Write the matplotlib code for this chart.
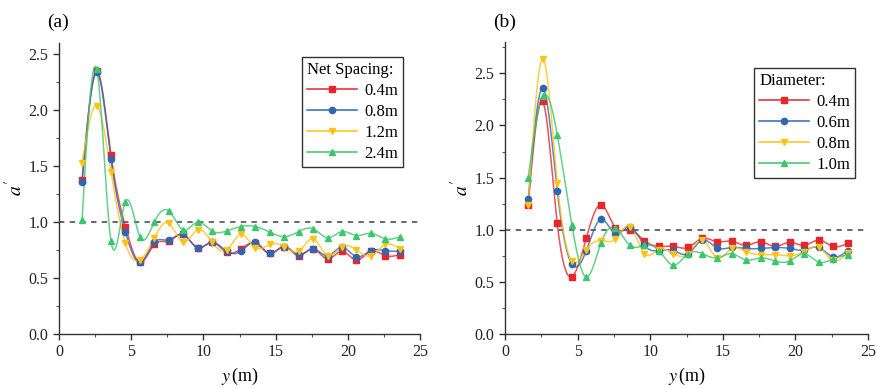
import numpy as np
import matplotlib
matplotlib.use("Agg")
import matplotlib.pyplot as plt
from matplotlib.lines import Line2D
from matplotlib.ticker import MultipleLocator

plt.rcParams['font.family'] = ['Liberation Serif', 'DejaVu Serif']
plt.rcParams['mathtext.fontset'] = 'stix'

# ---------------- data ----------------
y_pos = [1.6, 2.6, 3.6, 4.6, 5.6, 6.6, 7.6, 8.6, 9.6, 10.6, 11.6, 12.6,
         13.6, 14.6, 15.6, 16.6, 17.6, 18.6, 19.6, 20.6, 21.6, 22.6, 23.6]

# panel (a): net spacing
a_labels = ["0.4m", "0.8m", "1.2m", "2.4m"]
a_s04 = [1.38, 2.35, 1.60, 0.96, 0.64, 0.80, 0.83, 0.89, 0.77, 0.82, 0.73, 0.76,
         0.81, 0.72, 0.78, 0.70, 0.76, 0.67, 0.74, 0.66, 0.74, 0.70, 0.71]
a_s08 = [1.36, 2.34, 1.56, 0.91, 0.64, 0.82, 0.84, 0.89, 0.77, 0.82, 0.74, 0.74,
         0.82, 0.72, 0.78, 0.71, 0.76, 0.70, 0.775, 0.69, 0.745, 0.745, 0.74]
a_s12 = [1.53, 2.04, 1.45, 0.81, 0.66, 0.86, 0.99, 0.82, 0.93, 0.82, 0.75, 0.89,
         0.77, 0.80, 0.78, 0.74, 0.85, 0.70, 0.78, 0.75, 0.70, 0.80, 0.76]
a_s24 = [1.02, 2.37, 0.83, 1.18, 0.87, 1.00, 1.10, 0.93, 1.00, 0.92, 0.92, 0.96,
         0.96, 0.91, 0.87, 0.915, 0.94, 0.86, 0.915, 0.88, 0.90, 0.85, 0.87]

# panel (b): diameter
b_labels = ["0.4m", "0.6m", "0.8m", "1.0m"]
b_d04 = [1.24, 2.23, 1.06, 0.55, 0.92, 1.24, 1.02, 1.00, 0.895, 0.84, 0.84, 0.83,
         0.917, 0.885, 0.89, 0.85, 0.885, 0.84, 0.88, 0.85, 0.90, 0.84, 0.87]
b_d06 = [1.29, 2.36, 1.37, 0.67, 0.80, 1.10, 0.96, 1.03, 0.85, 0.80, 0.80, 0.77,
         0.90, 0.826, 0.83, 0.82, 0.82, 0.83, 0.82, 0.806, 0.83, 0.74, 0.80]
b_d08 = [1.235, 2.64, 1.45, 0.70, 0.81, 0.895, 0.91, 1.03, 0.77, 0.81, 0.77, 0.77,
         0.90, 0.73, 0.82, 0.79, 0.76, 0.76, 0.75, 0.79, 0.83, 0.705, 0.78]
b_d10 = [1.50, 2.28, 1.91, 1.05, 0.545, 0.87, 1.02, 0.85, 0.85, 0.80, 0.66, 0.77,
         0.77, 0.73, 0.77, 0.71, 0.73, 0.70, 0.70, 0.77, 0.69, 0.72, 0.76]

colors = ['#e8252b', '#2f67b1', '#fec213', '#3cc66c']
markers = ['s', 'o', 'v', '^']


def natural_spline(x, y, n=12):
    """Smooth curve through the data points (natural cubic spline)."""
    x = np.asarray(x, float)
    y = np.asarray(y, float)
    k = len(x)
    h = np.diff(x)
    A = np.zeros((k, k))
    r = np.zeros(k)
    A[0, 0] = 1
    A[-1, -1] = 1
    for i in range(1, k - 1):
        A[i, i - 1] = h[i - 1]
        A[i, i] = 2 * (h[i - 1] + h[i])
        A[i, i + 1] = h[i]
        r[i] = 6 * ((y[i + 1] - y[i]) / h[i] - (y[i] - y[i - 1]) / h[i - 1])
    M = np.linalg.solve(A, r)
    xs, ys = [], []
    for i in range(k - 1):
        t = np.linspace(x[i], x[i + 1], n, endpoint=False)
        a = x[i + 1] - t
        b = t - x[i]
        s = (M[i] * a ** 3 + M[i + 1] * b ** 3) / (6 * h[i]) \
            + (y[i] / h[i] - M[i] * h[i] / 6) * a \
            + (y[i + 1] / h[i] - M[i + 1] * h[i] / 6) * b
        xs.append(t)
        ys.append(s)
    xs.append([x[-1]])
    ys.append([y[-1]])
    return np.concatenate(xs), np.concatenate(ys)


fig = plt.figure(figsize=(8.77, 3.89), dpi=100)
ax_a = fig.add_axes([59 / 877, 55 / 389, 361 / 877, 291 / 389])
ax_b = fig.add_axes([505 / 877, 55 / 389, 363 / 877, 292 / 389])


def draw(ax, series, labels, title, ymax, legend_anchor):
    ax.axhline(1.0, color='#404040', lw=1.1, ls=(0, (3.5, 3.5)), zorder=1)
    handles = []
    for vals, lab, c, m in zip(series, labels, colors, markers):
        sx, sy = natural_spline(y_pos, vals)
        ax.plot(sx, sy, color=c, lw=1.1, alpha=0.8, zorder=2)
        ax.plot(y_pos, vals, ls='none', marker=m, ms=4.5, color=c,
                mec=c, zorder=3)
        handles.append(Line2D([0], [0], color=c, lw=1.1, marker=m, ms=4.5,
                              label=lab))
    ax.set_xlim(0, 25)
    ax.set_ylim(0, ymax)
    ax.xaxis.set_major_locator(MultipleLocator(5))
    ax.xaxis.set_minor_locator(MultipleLocator(2.5))
    ax.yaxis.set_major_locator(MultipleLocator(0.5))
    ax.yaxis.set_minor_locator(MultipleLocator(0.25))
    ax.yaxis.set_major_formatter(matplotlib.ticker.FormatStrFormatter('%.1f'))
    for sp in ['top', 'right']:
        ax.spines[sp].set_visible(False)
    for sp in ['left', 'bottom']:
        ax.spines[sp].set_color('#333333')
        ax.spines[sp].set_linewidth(1.0)
    ax.tick_params(which='major', direction='out', length=4, width=1,
                   color='#333333', labelsize=11.5, labelcolor='#222222')
    ax.tick_params(which='minor', direction='out', length=2.5, width=0.8,
                   color='#555555')
    ax.set_xlabel(r'$y\,$(m)', fontsize=13, labelpad=4)
    ax.set_ylabel(r"$a'$", fontsize=14, labelpad=2)
    leg = ax.legend(handles=handles, title=title, loc='upper right',
                    bbox_to_anchor=legend_anchor, borderaxespad=0,
                    fontsize=12, title_fontsize=12, handlelength=3.0,
                    handletextpad=0.4, labelspacing=0.3, borderpad=0.3,
                    fancybox=False, framealpha=1, edgecolor='#333333')
    leg.get_frame().set_linewidth(1.0)
    leg._legend_box.align = 'left'


draw(ax_a, [a_s04, a_s08, a_s12, a_s24], a_labels, 'Net Spacing:', 2.6,
     (0.953, 0.952))
draw(ax_b, [b_d04, b_d06, b_d08, b_d10], b_labels, 'Diameter:', 2.8,
     (0.964, 0.911))

fig.text(58 / 877, 1 - 22 / 389, '(a)', fontsize=14, ha='center', va='center')
fig.text(505 / 877, 1 - 22 / 389, '(b)', fontsize=14, ha='center', va='center')

fig.savefig('out.png', dpi=100)
